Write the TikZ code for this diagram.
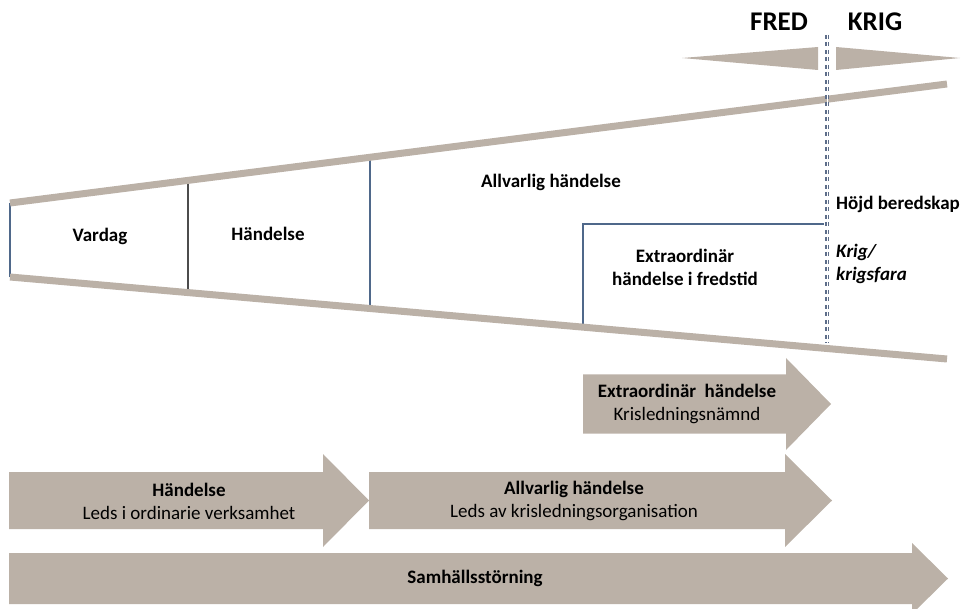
\documentclass[tikz,border=0pt]{standalone}
\usepackage{fontspec}
\setmainfont{Carlito}
\usetikzlibrary{calc}
\definecolor{sand}{RGB}{187,177,167}
\definecolor{slate}{RGB}{79,104,138}
\definecolor{dotblue}{RGB}{94,110,138}
\def\blockarrow(#1:#2:#3)(#4:#5:#6){\fill[sand] (#1,#4-#5) -- (#2,#4-#5) -- (#2,#4-#6) -- (#3,#4) -- (#2,#4+#6) -- (#2,#4+#5) -- (#1,#4+#5) -- cycle;}
\tikzset{
  txt/.style={font=\fontsize{19}{23}\selectfont, inner sep=0pt, align=center},
  bold/.style={txt, font=\fontsize{19}{23}\selectfont\bfseries},
  big/.style={font=\fontsize{27}{32}\selectfont\bfseries, inner sep=0pt},
  band/.style={line width=7pt, color=sand},
}

\begin{document}
\begin{tikzpicture}[x=1pt, y=-1pt]
			%%%%% START %%%%%
			\useasboundingbox (0,0) rectangle (961,609);
			
			% fred / krig
			\node[big] (fred) at (779,22) {FRED};
			\node[big] (krig) at (875,22) {KRIG};
			\fill[sand] (682,58) -- (818,47) -- (818,70) -- cycle;
			\fill[sand] (960,58) -- (836,47) -- (836,70) -- cycle;
			
			% dividers inside the wedge
			\draw[line width=1.2pt, color=slate] (10,203) -- (10,277);
			\draw[line width=1.2pt, color=black!70] (188,180) -- (188,292);
			\draw[line width=1.2pt, color=slate] (370,157) -- (370,308);
			\draw[line width=1.2pt, color=slate] (583,326) -- (583,224) -- (824,224);
			
			% wedge
			\draw[band] (10,203) -- (947,84);
			\draw[band] (10,277) -- (947,359);
			
			\draw[line width=4.5pt, color=dotblue, dash pattern=on 4pt off 3.5pt] (827,35) -- (827,343);
			\draw[line width=0.7pt, color=white] (827,35) -- (827,343);
			
			\node[bold] (vardag) at (100,236) {Vardag};
			\node[bold] (hand) at (268,234) {Händelse};
			\node[bold] (allv) at (551,182) {Allvarlig händelse};
			\node[bold] (extra) at (685,267) {Extraordinär\\händelse i fredstid};
			\node[bold, anchor=west] (hojd) at (836,204) {Höjd beredskap};
			\node[bold, font=\fontsize{19}{23}\selectfont\bfseries\itshape, anchor=west, align=left] (krigsfara) at (836,264) {Krig/\\krigsfara};
			
			% arrows
			\blockarrow(583:786:831)(404:29.5:46)
			\blockarrow(9:323:369)(500.5:28.5:46.5)
			\blockarrow(369:785:832)(500.5:28.5:46.5)
			\blockarrow(9:912:948)(578.5:25.5:35.5)
			
			\node[txt] (extraA) at (687,404) {\textbf{Extraordinär\ \ händelse}\\Krisledningsnämnd};
			\node[txt] (handA) at (189,501) {\textbf{Händelse}\\Leds i ordinarie verksamhet};
			\node[txt] (allvA) at (574,501) {\textbf{Allvarlig händelse}\\Leds av krisledningsorganisation};
			\node[bold] (samh) at (475,578) {Samhällsstörning};
			
			%%%%% END %%%%%
\end{tikzpicture}
\end{document}
